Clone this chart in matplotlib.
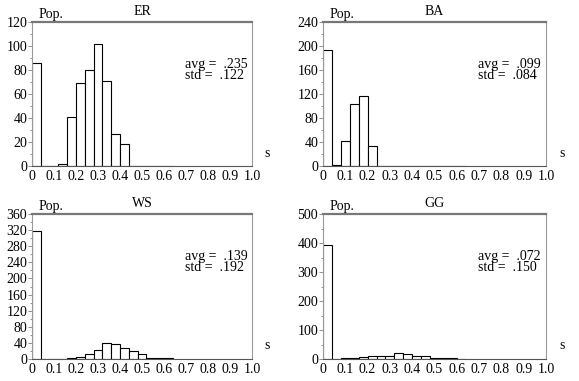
import numpy as np
import matplotlib
matplotlib.use("Agg")
import matplotlib.pyplot as plt
from matplotlib.ticker import MultipleLocator

plt.rcParams['font.family'] = ['Liberation Serif', 'DejaVu Serif']

bin_width = 0.04
bin_left = np.arange(0, 0.64, bin_width)

titles = ['ER', 'BA', 'WS', 'GG']
er_counts = [86, 0, 0, 2, 41, 69, 80, 102, 71, 27, 18, 0, 0, 0, 0, 0]
ba_counts = [193, 2, 41, 103, 117, 33, 0, 0, 0, 0, 0, 0, 0, 0, 0, 0]
ws_counts = [318, 0, 0, 0, 2, 5, 12, 22, 40, 37, 27, 19, 12, 3, 2, 2]
gg_counts = [394, 0, 2, 3, 6, 12, 10, 10, 19, 16, 10, 12, 3, 2, 2, 0]
all_counts = [er_counts, ba_counts, ws_counts, gg_counts]
avgs = ['.235', '.099', '.139', '.072']
stds = ['.122', '.084', '.192', '.150']
y_max = [120, 240, 360, 500]
y_step = [20, 40, 40, 100]
x_ticks = [0, 0.1, 0.2, 0.3, 0.4, 0.5, 0.6, 0.7, 0.8, 0.9, 1.0]
x_labels = ['0', '0.1', '0.2', '0.3', '0.4', '0.5', '0.6', '0.7', '0.8', '0.9', '1.0']

fig = plt.figure(figsize=(5.79, 3.81), dpi=100)
W, H = 579.0, 381.0
# axes boxes in pixels: left, top, right, bottom
boxes = [(32, 22, 252, 166), (323, 22, 546, 166),
         (32, 214, 252, 359), (323, 214, 546, 359)]

for i in range(4):
    l, t, r, b = boxes[i]
    ax = fig.add_axes([l / W, 1 - b / H, (r - l) / W, (b - t) / H])
    ax.bar(bin_left, all_counts[i], width=bin_width, align='edge',
           facecolor='white', edgecolor='black', linewidth=0.8)
    ax.set_xlim(0, 1.0)
    ax.set_ylim(0, y_max[i])
    ax.set_xticks(x_ticks)
    ax.set_xticklabels(x_labels)
    ax.set_yticks(np.arange(0, y_max[i] + 1, y_step[i]))
    ax.yaxis.set_minor_locator(MultipleLocator(y_step[i] / 2))
    ax.tick_params(axis='both', labelsize=10, direction='out', pad=0.5)
    ax.tick_params(axis='x', length=0, pad=3)
    ax.tick_params(axis='y', which='major', length=3, width=0.6, color='gray')
    ax.tick_params(axis='y', which='minor', length=1.5, width=0.6, color='gray')
    for side in ['left', 'right']:
        ax.spines[side].set_color('#999999')
        ax.spines[side].set_linewidth(0.8)
    ax.spines['top'].set_color('#777777')
    ax.spines['top'].set_linewidth(1.6)
    ax.spines['bottom'].set_color('#555555')
    ax.spines['bottom'].set_linewidth(0.8)
    ax.set_title(titles[i], fontsize=10, pad=5)
    ax.text(0.03, 1.005, 'Pop.', transform=ax.transAxes, fontsize=10,
            ha='left', va='bottom')
    ax.text(1.07, 0.09, 's', transform=ax.transAxes, fontsize=10,
            ha='center', va='center')
    ax.text(0.695, 0.67, 'avg =  ' + avgs[i] + '\nstd =  ' + stds[i],
            transform=ax.transAxes, fontsize=10, ha='left', va='center',
            linespacing=0.8)

fig.savefig('out.png', dpi=100)
